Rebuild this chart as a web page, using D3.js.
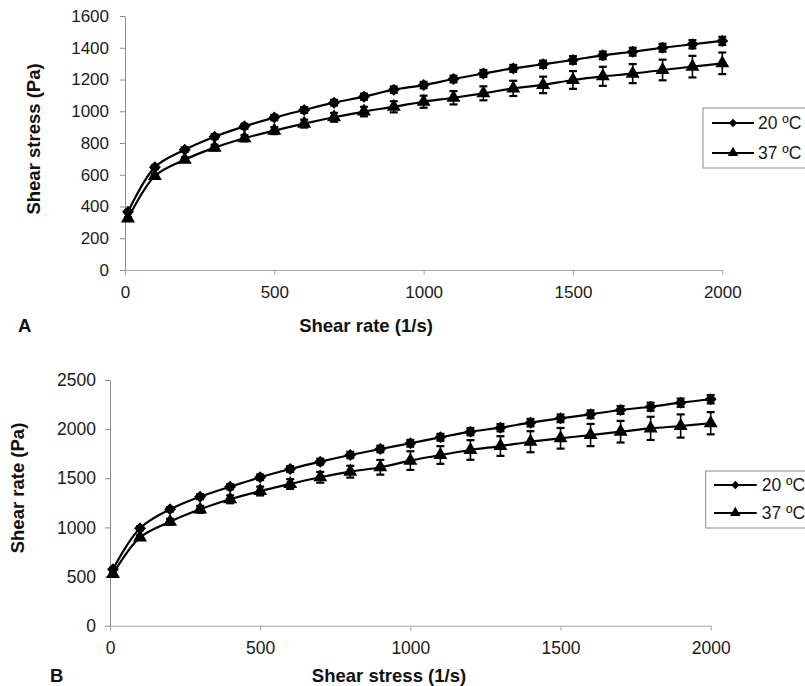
<!DOCTYPE html>
<html>
<head>
<meta charset="utf-8">
<script src="https://cdn.jsdelivr.net/npm/d3@7"></script>
<style>
    body { margin: 0; background: #fff; }
    svg { display: block; font-family: Arial, "Liberation Sans", sans-serif; }
</style>
</head>
<body>
<svg id="chart" width="805" height="686"></svg>
<script>
// x values shared by both panels
const xValues = [10, 100, 200, 300, 400, 500, 600, 700, 800, 900, 1000,
    1100, 1200, 1300, 1400, 1500, 1600, 1700, 1800, 1900, 2000];
const xTicks = [0, 500, 1000, 1500, 2000];
const seriesNames = ['20 ºC', '37 ºC'];

// panel A: shear stress (Pa)
const stressA20 = [367, 648, 758, 840, 905, 960, 1008, 1054, 1092, 1136, 1165,
    1203, 1238, 1270, 1296, 1323, 1352, 1375, 1400, 1422, 1443];
const errA20 = [10, 12, 14, 15, 16, 17, 18, 18, 19, 20, 20, 21, 22, 22, 23, 24, 24, 25, 25, 26, 26];
const stressA37 = [325, 592, 695, 771, 830, 878, 922, 962, 998, 1028, 1060,
    1085, 1113, 1144, 1166, 1197, 1220, 1237, 1260, 1281, 1302];
const errA37 = [8, 12, 15, 18, 20, 22, 25, 28, 30, 35, 38, 42, 44, 48, 52, 56, 60, 60, 65, 68, 68];
const yTicksA = [0, 200, 400, 600, 800, 1000, 1200, 1400, 1600];

// panel B: shear rate (Pa)
const rateB20 = [574, 991, 1184, 1313, 1414, 1510, 1594, 1669, 1737, 1798, 1856,
    1917, 1974, 2015, 2066, 2110, 2151, 2195, 2228, 2269, 2304];
const errB20 = [15, 20, 22, 25, 27, 28, 30, 30, 32, 33, 34, 35, 36, 37, 38, 39, 40, 40, 41, 42, 42];
const rateB37 = [526, 899, 1058, 1184, 1286, 1370, 1442, 1510, 1567, 1612, 1680,
    1737, 1788, 1828, 1872, 1907, 1940, 1974, 2008, 2032, 2060];
const errB37 = [12, 20, 30, 35, 40, 45, 50, 55, 60, 75, 95, 90, 100, 100, 107, 105, 113, 110, 118, 118, 113];
const yTicksB = [0, 500, 1000, 1500, 2000, 2500];

const svg = d3.select('#chart');

const drawPanel = (cfg) => {
    const g = svg.append('g');
    const x = d3.scaleLinear().domain([0, 2000]).range([cfg.left, cfg.right]);
    const y = d3.scaleLinear().domain(cfg.yDomain).range([cfg.bottom, cfg.top]);
    const fmt = d3.format('d');

    // axes
    const xAxis = g.append('g')
        .attr('transform', `translate(0,${cfg.bottom})`)
        .call(d3.axisBottom(x).tickValues(xTicks).tickFormat(fmt)
            .tickSize(5).tickSizeOuter(0).tickPadding(11));
    const yAxis = g.append('g')
        .attr('transform', `translate(${cfg.left},0)`)
        .call(d3.axisLeft(y).tickValues(cfg.yTicks).tickFormat(fmt)
            .tickSize(5).tickSizeOuter(0).tickPadding(cfg.yPad));
    [xAxis, yAxis].forEach(a => {
        a.selectAll('text').attr('font-size', cfg.tickFont).attr('fill', '#1a1a1a')
            .attr('font-family', 'Arial, "Liberation Sans", sans-serif');
    });
    xAxis.selectAll('path, line').attr('stroke', '#a6a6a6');
    yAxis.selectAll('path, line').attr('stroke', '#8c8c8c');

    // titles
    g.append('text')
        .attr('x', cfg.xTitle[0]).attr('y', cfg.xTitle[1])
        .attr('text-anchor', 'middle').attr('dominant-baseline', 'central')
        .attr('font-size', 18.5).attr('font-weight', 'bold').attr('fill', '#111')
        .text(cfg.xLabel);
    g.append('text')
        .attr('transform', `translate(${cfg.yTitle[0]},${cfg.yTitle[1]}) rotate(-90)`)
        .attr('text-anchor', 'middle').attr('dominant-baseline', 'central')
        .attr('font-size', 18.5).attr('font-weight', 'bold').attr('fill', '#111')
        .text(cfg.yLabel);
    g.append('text')
        .attr('x', cfg.letter[0]).attr('y', cfg.letter[1])
        .attr('dominant-baseline', 'central')
        .attr('font-size', 18.5).attr('font-weight', 'bold').attr('fill', '#111')
        .text(cfg.name);

    const line = d3.line()
        .x(d => x(d.x))
        .y(d => y(d.y))
        .curve(d3.curveCatmullRom.alpha(0.5));

    const markers = [
        d3.symbol().type(d3.symbolSquare).size(72),
        d3.symbol().type(d3.symbolTriangle).size(85)
    ];
    const legendMarkers = [
        d3.symbol().type(d3.symbolSquare).size(36),
        d3.symbol().type(d3.symbolTriangle).size(50)
    ];
    const rotate = [45, 0];

    cfg.series.forEach((s, i) => {
        const pts = xValues.map((xv, k) => ({ x: xv, y: s.values[k], e: s.err[k] }));

        // error bars
        const eb = g.append('g').attr('stroke', '#000').attr('stroke-width', 1.6);
        eb.selectAll('line.v').data(pts).enter().append('line')
            .attr('x1', d => x(d.x)).attr('x2', d => x(d.x))
            .attr('y1', d => y(d.y - d.e)).attr('y2', d => y(d.y + d.e));
        eb.selectAll('line.t').data(pts).enter().append('line')
            .attr('x1', d => x(d.x) - 4).attr('x2', d => x(d.x) + 4)
            .attr('y1', d => y(d.y + d.e)).attr('y2', d => y(d.y + d.e))
            .attr('stroke-width', 2.2);
        eb.selectAll('line.b').data(pts).enter().append('line')
            .attr('x1', d => x(d.x) - 4).attr('x2', d => x(d.x) + 4)
            .attr('y1', d => y(d.y - d.e)).attr('y2', d => y(d.y - d.e))
            .attr('stroke-width', 2.2);

        g.append('path')
            .datum(pts)
            .attr('fill', 'none')
            .attr('stroke', '#000')
            .attr('stroke-width', 2.2)
            .attr('d', line);

        g.selectAll(null).data(pts).enter().append('path')
            .attr('d', markers[i])
            .attr('fill', '#000')
            .attr('transform', d => `translate(${x(d.x)},${y(d.y)}) rotate(${rotate[i]})`);
    });

    // legend
    const lg = g.append('g');
    lg.append('rect')
        .attr('x', cfg.legend.x).attr('y', cfg.legend.y)
        .attr('width', cfg.legend.w).attr('height', cfg.legend.h)
        .attr('fill', '#fff').attr('stroke', '#8c8c8c').attr('stroke-width', 1);
    seriesNames.forEach((name, i) => {
        const ry = cfg.legend.rows[i];
        lg.append('line')
            .attr('x1', cfg.legend.lx1).attr('x2', cfg.legend.lx2)
            .attr('y1', ry).attr('y2', ry)
            .attr('stroke', '#000').attr('stroke-width', 2.2);
        lg.append('path')
            .attr('d', legendMarkers[i])
            .attr('fill', '#000')
            .attr('transform', `translate(${(cfg.legend.lx1 + cfg.legend.lx2) / 2},${ry}) rotate(${rotate[i]})`);
        lg.append('text')
            .attr('x', cfg.legend.tx).attr('y', ry)
            .attr('dominant-baseline', 'central')
            .attr('font-size', 17.5).attr('fill', '#1a1a1a')
            .text(name);
    });
};

drawPanel({
    name: 'A',
    left: 125, right: 722.3, top: 16, bottom: 270,
    yDomain: [0, 1600], yTicks: yTicksA, yPad: 11, tickFont: 17,
    xLabel: 'Shear rate (1/s)', yLabel: 'Shear stress (Pa)',
    xTitle: [366, 325], yTitle: [33, 139], letter: [18, 325],
    series: [
        { values: stressA20, err: errA20 },
        { values: stressA37, err: errA37 }
    ],
    legend: { x: 703, y: 108, w: 103, h: 60, rows: [123, 153], lx1: 712, lx2: 754, tx: 758 }
});

drawPanel({
    name: 'B',
    left: 110, right: 710.7, top: 380, bottom: 625.7,
    yDomain: [0, 2500], yTicks: yTicksB, yPad: 9, tickFont: 17.5,
    xLabel: 'Shear stress (1/s)', yLabel: 'Shear rate (Pa)',
    xTitle: [389, 675], yTitle: [17, 488], letter: [50, 675],
    series: [
        { values: rateB20, err: errB20 },
        { values: rateB37, err: errB37 }
    ],
    legend: { x: 705.7, y: 471, w: 100, h: 57, rows: [485, 513], lx1: 714, lx2: 756.7, tx: 761.7 }
});
</script>
</body>
</html>
